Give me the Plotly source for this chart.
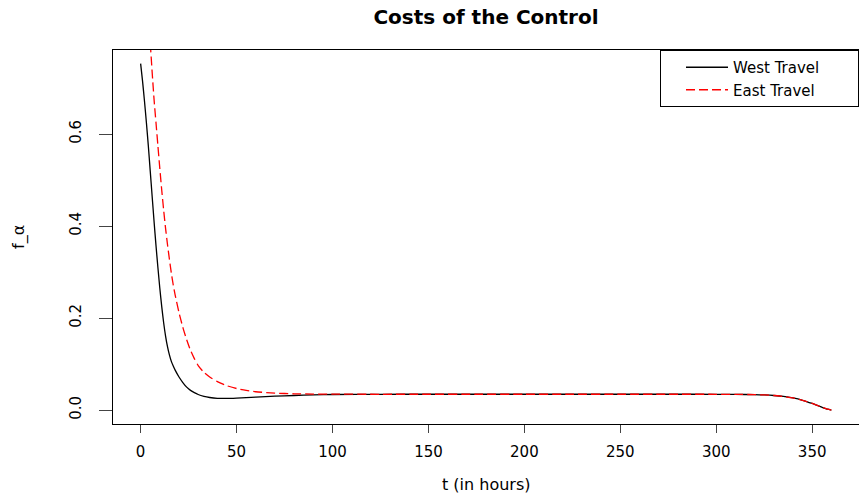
import plotly.graph_objects as go

t_hours = [0, 1, 2, 3, 4, 5, 6, 7, 8, 9, 10, 11, 12, 13, 14, 15, 16, 17, 18,
           20, 22, 24, 26, 28, 30,
           33, 36, 40, 45, 50, 55, 60,
           70, 80, 90, 100,
           125, 150, 175, 200, 225, 250, 275, 300,
           310, 320, 325, 330, 335, 340, 345, 350, 355, 358, 360]

west_travel = [0.753, 0.715, 0.672, 0.625, 0.575, 0.52, 0.465, 0.41, 0.358, 0.31,
               0.265, 0.225, 0.19, 0.161, 0.138, 0.12, 0.106, 0.096, 0.087,
               0.072, 0.060, 0.050, 0.043, 0.038, 0.034,
               0.030, 0.0275, 0.0258, 0.0255, 0.0262, 0.0272, 0.0283,
               0.0303, 0.0318, 0.0332, 0.034,
               0.0345, 0.0346, 0.0346, 0.0346, 0.0346, 0.0346, 0.0346, 0.0345,
               0.0343, 0.0337, 0.033, 0.0318, 0.0298, 0.0265, 0.0215, 0.0145, 0.0065, 0.002, 0.0]

east_travel = [1.22, 1.13, 1.04, 0.96, 0.88, 0.80, 0.735, 0.675, 0.625, 0.575,
               0.525, 0.478, 0.435, 0.395, 0.36, 0.328, 0.298, 0.272, 0.25,
               0.212, 0.18, 0.153, 0.13, 0.112, 0.097,
               0.082, 0.072, 0.062, 0.053, 0.047, 0.043, 0.040,
               0.037, 0.0355, 0.035, 0.0348,
               0.0345, 0.0346, 0.0346, 0.0346, 0.0346, 0.0346, 0.0346, 0.0345,
               0.0343, 0.0337, 0.033, 0.0318, 0.0298, 0.0265, 0.0215, 0.0145, 0.0065, 0.002, 0.0]

x_ticks = [0, 50, 100, 150, 200, 250, 300, 350]
y_ticks = [0.0, 0.2, 0.4, 0.6]
y_tick_labels = ["0.0", "0.2", "0.4", "0.6"]

FONT = "DejaVu Sans, Liberation Sans, Arial, sans-serif"
PAD = "\u00a0" * 7

fig = go.Figure()
fig.add_trace(go.Scatter(x=t_hours, y=west_travel, mode="lines", name="West Travel" + PAD,
                         line=dict(color="black", width=1.3, shape="spline", smoothing=0.6)))
fig.add_trace(go.Scatter(x=t_hours, y=east_travel, mode="lines", name="East Travel" + PAD,
                         line=dict(color="red", width=1.3, dash="9px,4px", shape="spline", smoothing=0.6)))

fig.update_layout(
    width=859, height=493,
    margin=dict(l=113, r=0, t=50, b=69),
    plot_bgcolor="white", paper_bgcolor="white",
    font=dict(family=FONT, color="black", size=15),
    title=dict(text="<b>Costs of the Control</b>", x=0.5, xref="paper", y=1 - 17 / 493,
               yref="container", xanchor="center", yanchor="middle",
               font=dict(family=FONT, size=20, color="black")),
    legend=dict(x=1, xanchor="right", y=1, yanchor="top", bordercolor="black", borderwidth=1,
                bgcolor="white", font=dict(family=FONT, size=15, color="black"),
                tracegroupgap=0, itemwidth=42, indentation=20),
    xaxis=dict(range=[-14.4, 374.4], tickvals=x_ticks, ticks="outside", ticklen=8,
               tickcolor="#444", tickwidth=1, showline=True, linecolor="black", linewidth=1,
               mirror=True, showgrid=False, zeroline=False, tickfont=dict(size=15),
               ticklabelstandoff=6),
    yaxis=dict(range=[-0.0301, 0.7827], tickvals=y_ticks, ticktext=y_tick_labels,
               ticks="outside", ticklen=13, tickcolor="#444", tickwidth=1, tickangle=-90,
               showline=True, linecolor="black", linewidth=1, mirror=True, showgrid=False,
               zeroline=False, tickfont=dict(size=15), ticklabelstandoff=12),
    annotations=[
        dict(text="t (in hours)", xref="paper", yref="paper", x=0.5, y=-(484 - 424) / 374,
             xanchor="center", yanchor="middle", showarrow=False, font=dict(size=16)),
        dict(text="f_α", xref="paper", yref="paper", x=(19 - 113) / 746, y=0.5,
             xanchor="center", yanchor="middle", textangle=-90, showarrow=False,
             font=dict(size=16)),
    ],
)

fig.write_html("out.html", config={"displayModeBar": False},
               post_script="document.body.style.margin='0';document.body.style.overflow='hidden';")
